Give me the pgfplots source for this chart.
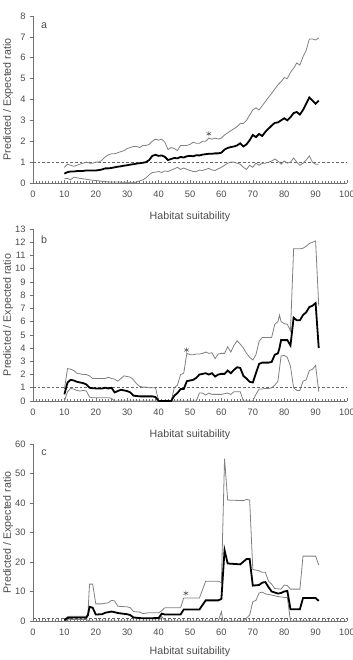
\documentclass[border=0pt]{standalone}
\usepackage{pgfplots}
\pgfplotsset{compat=1.18}
\usepackage{fontspec}
\setmainfont{Liberation Sans}
\definecolor{txt}{gray}{0.3}
\definecolor{cicol}{gray}{0.5}
\pgfplotsset{panel/.style={
  scale only axis, width=235.5pt,
  xmin=0, xmax=100, ymin=0,
  axis lines*=left,
  axis line style={black!55, line width=0.6pt},
  xtick={0,10,...,100}, minor x tick num=9,
  tick align=inside,
  major tick length=2.5pt, minor tick length=1.5pt,
  tick style={black!55, line width=0.4pt},
  y tick style={xshift=-2.5pt},
  /pgf/number format/assume math mode=true,
  tick label style={font=\fontsize{7}{8}\selectfont, text=txt},
  xticklabel style={yshift=-2.2pt},
  yticklabel style={xshift=-2pt},
  label style={font=\fontsize{8}{9.6}\selectfont, text=txt},
  xlabel={Habitat suitability}, ylabel={Predicted / Expected ratio},
  ylabel style={at={(axis description cs:-0.0796,0.5)}, anchor=center},
  clip=false,
}}
\tikzset{cil/.style={draw=cicol, line width=0.6pt}, meanl/.style={draw=black, line width=1.35pt},
  refl/.style={draw=black!60, dash pattern=on 2pt off 1.5pt, line width=0.5pt}}
\begin{document}
\begin{tikzpicture}
\path[use as bounding box] (0,0) rectangle (264.75pt,495pt);
% panel a
\begin{axis}[panel, at={(24.75pt,357.75pt)}, anchor=south west, height=125.25pt,
  ymax=8, ytick={0,1,...,8},
  xlabel style={at={(axis description cs:0.5,-0.2036)}, anchor=center}]
\addplot[refl] coordinates {(0,1)(100,1)};
\addplot[cil] coordinates {(10,0.75)(11,0.9)(12,0.85)(13,0.8)(14,0.85)(15,0.9)(16,0.95)(17,1.0)(18,0.95)(19,0.95)(20,1.0)(21,1.0)(22,1.1)(23,1.25)(24,1.35)(25,1.4)(26,1.4)(27,1.45)(28,1.5)(29,1.55)(30,1.65)(31,1.7)(32,1.75)(33,1.75)(34,1.7)(35,1.8)(36,1.8)(37,1.85)(38,2.0)(39,2.1)(40,2.05)(41,2.1)(42,1.95)(43,1.6)(44,1.7)(45,1.65)(46,1.55)(47,1.8)(48,1.8)(49,1.8)(50,1.85)(51,1.95)(52,1.9)(53,1.9)(54,2.0)(55,2.0)(56,2.15)(57,2.1)(58,2.15)(59,2.1)(60,2.15)(61,2.3)(62,2.4)(63,2.5)(64,2.6)(65,2.7)(66,2.85)(67,2.85)(68,3.0)(69,3.25)(70,3.5)(71,3.6)(72,3.5)(73,3.7)(74,3.9)(75,4.1)(76,4.3)(77,4.5)(78,4.7)(79,4.85)(80,5.05)(81,5.0)(82,5.3)(83,5.5)(84,5.75)(85,5.65)(86,6.05)(87,6.35)(88,6.9)(89,6.9)(90,6.85)(91,6.95)};
\addplot[cil] coordinates {(10,0.2)(11,0.22)(12,0.15)(13,0.28)(14,0.25)(15,0.22)(16,0.2)(17,0.18)(18,0.15)(19,0.13)(20,0.12)(21,0.1)(22,0.08)(23,0.06)(24,0.05)(25,0.05)(26,0.05)(27,0.05)(28,0.04)(29,0.04)(30,0.03)(31,0.0)(32,0.02)(33,0.05)(34,0.1)(35,0.15)(36,0.25)(37,0.4)(38,0.5)(39,0.52)(40,0.55)(41,0.5)(42,0.58)(43,0.55)(44,0.62)(45,0.68)(46,0.75)(47,0.65)(48,0.72)(49,0.65)(50,0.6)(51,0.55)(52,0.55)(53,0.62)(54,0.6)(55,0.65)(56,0.7)(57,0.62)(58,0.6)(59,0.68)(60,0.75)(61,0.85)(62,0.95)(63,1.0)(64,1.0)(65,0.95)(66,0.9)(67,0.75)(68,0.65)(69,0.85)(70,0.75)(71,0.95)(72,0.85)(73,0.95)(74,0.95)(75,1.0)(76,1.05)(77,1.15)(78,1.05)(79,0.9)(80,1.05)(81,0.95)(82,1.0)(83,1.2)(84,1.0)(85,0.85)(86,0.95)(87,1.1)(88,1.3)(89,1.0)(90,0.9)(91,0.9)};
\addplot[meanl] coordinates {(10,0.45)(11,0.52)(12,0.55)(13,0.55)(14,0.57)(15,0.57)(16,0.58)(17,0.6)(18,0.6)(19,0.6)(20,0.6)(21,0.62)(22,0.65)(23,0.7)(24,0.7)(25,0.72)(26,0.75)(27,0.78)(28,0.8)(29,0.83)(30,0.85)(31,0.88)(32,0.9)(33,0.93)(34,0.95)(35,0.97)(36,1.0)(37,1.1)(38,1.3)(39,1.35)(40,1.3)(41,1.32)(42,1.25)(43,1.1)(44,1.15)(45,1.2)(46,1.18)(47,1.25)(48,1.22)(49,1.28)(50,1.3)(51,1.28)(52,1.33)(53,1.32)(54,1.36)(55,1.38)(56,1.4)(57,1.4)(58,1.42)(59,1.42)(60,1.45)(61,1.6)(62,1.68)(63,1.72)(64,1.75)(65,1.8)(66,1.9)(67,1.75)(68,1.85)(69,2.05)(70,2.3)(71,2.2)(72,2.35)(73,2.25)(74,2.45)(75,2.6)(76,2.75)(77,2.88)(78,2.9)(79,3.0)(80,3.1)(81,3.0)(82,3.15)(83,3.35)(84,3.4)(85,3.28)(86,3.5)(87,3.8)(88,4.1)(89,3.95)(90,3.8)(91,3.95)};
\addplot[only marks, mark=asterisk, mark size=2pt, black!65] coordinates {(56,2.36)};
\node[font=\fontsize{8}{9.6}\selectfont, text=txt] at (axis description cs:0.035,0.94) {a};
\end{axis}
% panel b
\begin{axis}[panel, at={(24.75pt,194.25pt)}, anchor=south west, height=129pt,
  ymax=13, ytick={0,1,...,13},
  xlabel style={at={(axis description cs:0.5,-0.198)}, anchor=center}]
\addplot[refl] coordinates {(0,1)(100,1)};
\addplot[cil] coordinates {(10,0.9)(11,2.45)(12,2.4)(13,2.3)(14,2.1)(15,2.05)(16,2.0)(17,2.0)(18,1.9)(19,1.7)(20,1.7)(21,1.7)(22,1.7)(23,1.7)(24,1.8)(25,1.7)(26,1.65)(27,1.5)(28,1.7)(29,1.9)(30,1.85)(31,1.8)(32,1.6)(33,1.3)(34,1.1)(35,1.05)(36,1.05)(37,1.0)(38,1.0)(39,1.0)(40,0)(44,0)(45,1.0)(46,1.2)(47,2.0)(48,2.1)(49,3.6)(50,3.5)(51,3.5)(52,3.55)(53,3.55)(54,3.6)(55,3.7)(56,3.6)(57,3.65)(58,3.2)(59,3.55)(60,3.6)(61,3.6)(62,4.1)(63,3.7)(64,4.2)(65,4.55)(66,4.3)(67,4.0)(68,3.6)(69,3.3)(70,3.1)(71,3.5)(72,4.5)(73,4.8)(74,4.8)(75,4.8)(76,4.8)(77,5.8)(78,6.0)(78.5,6.5)(79,6.0)(80,5.85)(81,5.8)(82,5.3)(83,11.5)(84,11.5)(85,11.5)(86,11.55)(87,11.7)(88,11.9)(89,12.0)(90,12.1)(91,7.2)};
\addplot[cil] coordinates {(10,0.0)(11,0.7)(12,0.95)(13,0.9)(14,0.8)(15,0.75)(16,0.8)(17,0.75)(18,0.3)(19,0.25)(24,0.25)(25,0.2)(26,0.0)(52,0.0)(53,0.6)(54,0.6)(55,0.45)(56,0.6)(57,0.5)(58,0.5)(59,0.5)(60,0.5)(61,0.55)(62,0.6)(63,0.5)(64,0.7)(66,0.7)(67,0.0)(70,0.0)(71,0.5)(72,0.9)(73,0.9)(74,0.95)(75,0.95)(76,1.0)(77,1.2)(78,1.5)(79,3.4)(80,3.45)(81,3.3)(82,2.6)(83,1.0)(84,0.8)(85,0.8)(86,1.5)(87,1.6)(88,2.3)(89,2.4)(90,2.7)(91,0.7)};
\addplot[meanl] coordinates {(10,0.5)(11,1.4)(12,1.6)(13,1.55)(14,1.45)(15,1.4)(16,1.35)(17,1.25)(18,1.0)(19,0.97)(20,0.95)(21,0.95)(22,0.95)(23,1.0)(24,0.95)(25,1.0)(26,0.65)(27,0.75)(28,0.85)(29,0.8)(30,0.75)(31,0.65)(32,0.4)(33,0.38)(34,0.35)(35,0.35)(36,0.35)(37,0.35)(38,0.35)(39,0.3)(40,0.0)(44,0.0)(45,0.4)(46,0.6)(47,0.9)(48,0.9)(49,1.5)(50,1.55)(51,1.6)(52,1.75)(53,2.0)(54,2.05)(55,2.1)(56,2.0)(57,2.1)(58,1.85)(59,2.0)(60,2.05)(61,2.05)(62,2.3)(63,2.1)(64,2.35)(65,2.55)(66,2.5)(67,1.9)(68,1.7)(69,1.45)(70,1.4)(71,2.1)(72,2.8)(73,2.9)(74,2.9)(75,2.9)(76,2.95)(77,3.5)(78,3.6)(78.5,4.0)(79,4.6)(80,4.6)(81,4.6)(82,4.2)(83,6.3)(84,6.1)(85,6.1)(86,6.5)(87,6.7)(88,7.1)(89,7.2)(90,7.4)(91,4.0)};
\addplot[only marks, mark=asterisk, mark size=2pt, black!65] coordinates {(48.9,3.85)};
\node[font=\fontsize{8}{9.6}\selectfont, text=txt] at (axis description cs:0.035,0.94) {b};
\end{axis}
% panel c
\begin{axis}[panel, at={(24.75pt,29.25pt)}, anchor=south west, height=132.75pt,
  ymax=60, ytick={0,10,...,60},
  xlabel style={at={(axis description cs:0.5,-0.175)}, anchor=center}]
\addplot[refl] coordinates {(0,1)(100,1)};
\addplot[cil] coordinates {(10,0.5)(11,1.5)(12,1.6)(17,1.6)(17.5,2.5)(18,12.5)(19,12.5)(20,5.8)(22,5.8)(24,6.2)(25,7.0)(26,6.8)(27,5.0)(30,4.8)(31,4.5)(32,3.2)(34,3.0)(35,2.5)(37,2.8)(40,2.8)(41,3.5)(42,4.5)(47,4.5)(48,7.8)(53,7.8)(55,13.5)(59,13.5)(60,13.0)(61,55)(62,41)(67,40.8)(68,41.2)(69,41)(70,17.5)(72,17)(73,16.5)(74,16.5)(75,13.5)(76,12.5)(77,11)(79,10.8)(80,12.2)(81,12)(82,10.8)(85,10.8)(86,22)(90,22)(91,19)};
\addplot[cil] coordinates {(10,0)(11,0.3)(12,0.5)(17,0.5)(18,0.0)(40,0)(41,1.5)(42,0.2)(43,0)(59,0)(60,3.2)(60.5,0)(67,0)(68,1)(69,2)(70,6.5)(71,7)(72,9.5)(73,9.8)(74,9.2)(76,8.8)(78,8.3)(80,8.0)(81,8.0)(82,0)(91,0)};
\addplot[meanl] coordinates {(10,0.3)(11,1.0)(12,1.2)(17,1.2)(17.5,2)(18,4.8)(19,4.5)(20,2.2)(22,2.3)(23,2.8)(25,3.2)(26,3.0)(27,2.7)(30,2.3)(31,2.0)(32,1.2)(34,1.0)(35,0.9)(40,1.0)(41,2.5)(42,2.2)(47,2.2)(48,3.9)(53,3.9)(55,7.0)(59,7.0)(60,7.5)(61,24)(62,19.5)(66,19.2)(68,21)(69,21)(70,12.0)(72,12.2)(73,13.0)(74,13.2)(75,11.5)(76,10.0)(78,9.3)(79,9.5)(80,10)(81,10.2)(82,4.0)(85,4.0)(86,7.8)(90,7.8)(91,6.8)};
\addplot[only marks, mark=asterisk, mark size=2pt, black!65] coordinates {(48.7,9.4)};
\node[font=\fontsize{8}{9.6}\selectfont, text=txt] at (axis description cs:0.035,0.95) {c};
\end{axis}
\end{tikzpicture}
\end{document}
